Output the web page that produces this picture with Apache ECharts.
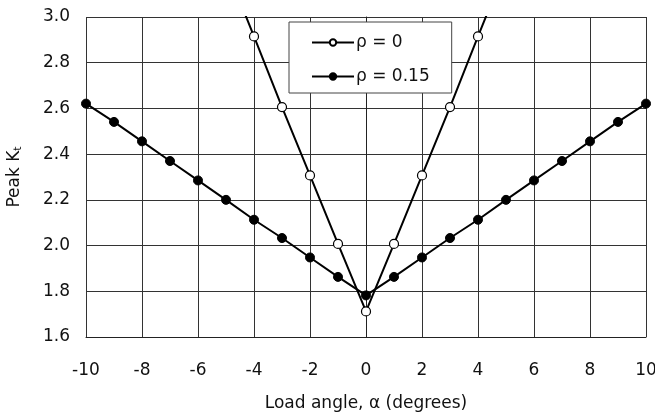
<!DOCTYPE html>
<html>
<head>
<meta charset="utf-8">
<script src="https://cdn.jsdelivr.net/npm/echarts@6/dist/echarts.min.js"></script>
<style>
  html, body { margin: 0; padding: 0; background: #ffffff; }
  #chart { width: 655px; height: 418px; }
</style>
</head>
<body>
<div id="chart"></div>
<script>
// Load angle (degrees) for each series
const anglesRho0 = [-5, -4, -3, -2, -1, 0, 1, 2, 3, 4, 5];
const anglesRho015 = [-10, -9, -8, -7, -6, -5, -4, -3, -2, -1, 0, 1, 2, 3, 4, 5, 6, 7, 8, 9, 10];

// Peak Kt values
const ktRho0 = [3.22, 2.915, 2.606, 2.307, 2.007, 1.712, 2.007, 2.307, 2.606, 2.915, 3.22];
const ktRho015 = [2.621, 2.541, 2.456, 2.370, 2.285, 2.200, 2.113, 2.033, 1.948, 1.863, 1.782,
                  1.863, 1.948, 2.033, 2.113, 2.200, 2.285, 2.370, 2.456, 2.541, 2.621];

const seriesNames = ['ρ = 0', 'ρ = 0.15'];

const pair = (xs, ys) => xs.map((x, i) => [x, ys[i]]);

const font = 'DejaVu Sans, Liberation Sans, Arial, sans-serif';
const chart = echarts.init(document.getElementById('chart'), null, { renderer: 'canvas' });

chart.setOption({
  backgroundColor: '#ffffff',
  animation: false,
  textStyle: { fontFamily: font },
  grid: { left: 86, right: 9, top: 17, bottom: 81, outerBoundsMode: 'none', containLabel: false },
  legend: {
    data: seriesNames,
    orient: 'vertical',
    left: 289,
    top: 22,
    padding: [12, 22, 8, 22],
    itemWidth: 42,
    itemHeight: 8,
    itemGap: 17,
    backgroundColor: '#ffffff',
    borderColor: '#444',
    borderWidth: 1,
    textStyle: { fontSize: 17, color: '#111', fontFamily: font, padding: [0, 0, 0, -3] }
  },
  xAxis: {
    type: 'value',
    min: -10,
    max: 10,
    interval: 2,
    name: 'Load angle, α (degrees)',
    nameLocation: 'middle',
    nameGap: 58,
    nameTextStyle: { fontSize: 17, color: '#111', fontFamily: font },
    axisLine: { lineStyle: { color: '#222', width: 1 } },
    axisTick: { show: false },
    axisLabel: { fontSize: 17, color: '#111', margin: 25, fontFamily: font },
    splitLine: { show: true, lineStyle: { color: '#333', width: 1 } }
  },
  yAxis: {
    type: 'value',
    min: 1.6,
    max: 3.0,
    interval: 0.2,
    name: '{n|Peak K}{s|t}',
    nameLocation: 'middle',
    nameGap: 62,
    nameTextStyle: {
      rich: {
        n: { fontSize: 17, color: '#111', fontFamily: font },
        s: { fontSize: 11, color: '#111', fontFamily: font, verticalAlign: 'bottom', padding: [8, 0, 0, 0] }
      }
    },
    axisLine: { show: true, lineStyle: { color: '#222', width: 1 } },
    axisTick: { show: false },
    axisLabel: {
      fontSize: 17, color: '#111', margin: 16, fontFamily: font,
      formatter: v => v.toFixed(1)
    },
    splitLine: { show: true, lineStyle: { color: '#333', width: 1 } }
  },
  series: [
    {
      name: seriesNames[0],
      type: 'line',
      data: pair(anglesRho0, ktRho0),
      clip: true,
      symbol: 'circle',
      symbolSize: 9,
      lineStyle: { color: '#000', width: 2 },
      itemStyle: { color: '#ffffff', borderColor: '#000', borderWidth: 1.2 },
      z: 2
    },
    {
      name: seriesNames[1],
      type: 'line',
      data: pair(anglesRho015, ktRho015),
      clip: true,
      symbol: 'circle',
      symbolSize: 9,
      lineStyle: { color: '#000', width: 2 },
      itemStyle: { color: '#000', borderColor: '#000', borderWidth: 1 },
      z: 3
    }
  ]
});
</script>
</body>
</html>
